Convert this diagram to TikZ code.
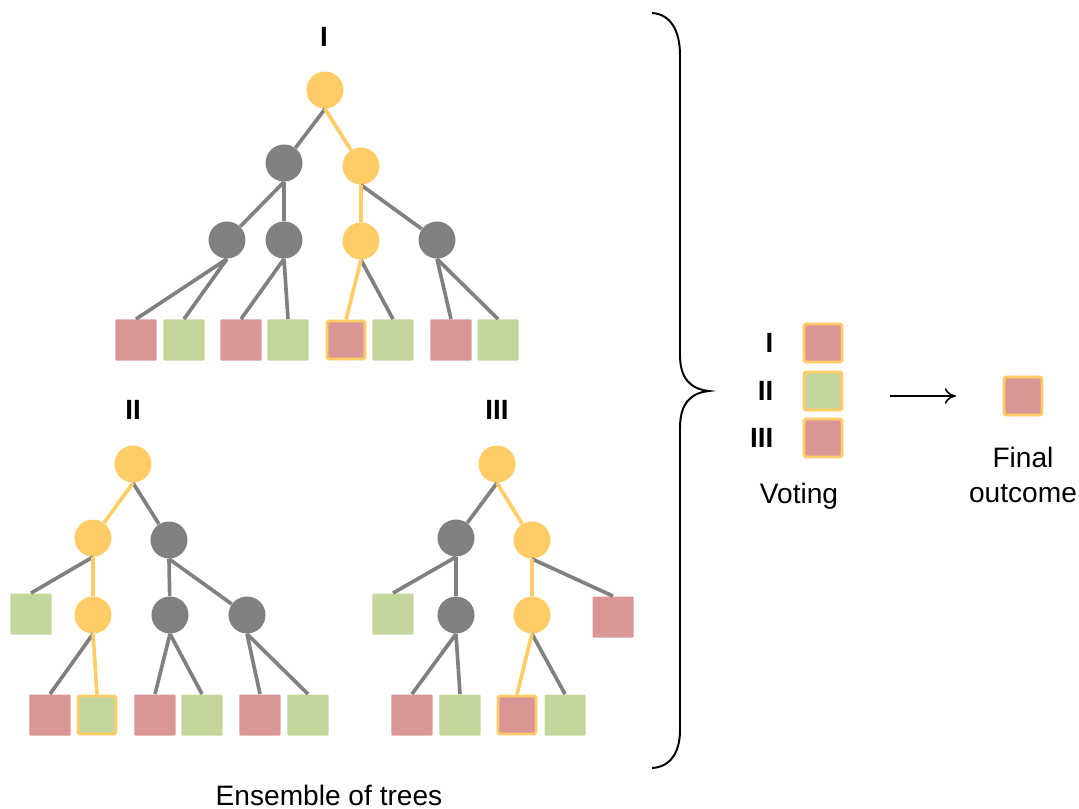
\documentclass[tikz,border=0pt]{standalone}
\usepackage{fontspec}
\setmainfont{Liberation Sans}
\usepackage{tikz}
\usetikzlibrary{arrows.meta, positioning}

\definecolor{nodeyellow}{HTML}{FFCC66}
\definecolor{nodegray}{HTML}{808080}
\definecolor{leafred}{HTML}{D99694}
\definecolor{leafgreen}{HTML}{C3D69B}

\begin{document}
\begin{tikzpicture}[x=0.025cm, y=-0.025cm, semithick,
    split/.style={circle, fill=nodegray, minimum size=0.925cm, inner sep=0pt},
    hot/.style={circle, fill=nodeyellow, minimum size=0.925cm, inner sep=0pt},
    redleaf/.style={rectangle, fill=leafred, minimum size=1.025cm, inner sep=0pt, rounded corners=0.6pt},
    greenleaf/.style={rectangle, fill=leafgreen, minimum size=1.025cm, inner sep=0pt, rounded corners=0.6pt},
    pick/.style={draw=nodeyellow, line width=2.1pt, minimum size=0.95cm, rounded corners=1.2pt},
    grayline/.style={draw=nodegray, line width=2.6pt},
    hotline/.style={draw=nodeyellow, line width=2.6pt},
    numeral/.style={font=\bfseries\fontsize{19.8}{22}\selectfont, inner sep=0pt},
    txt/.style={font=\fontsize{20}{24.8}\selectfont, align=center, inner sep=0pt}]
    \useasboundingbox (0,0) rectangle (1079,809);

    % tree I
    \node[hot]   (a1) at (325,90)  {};
    \node[split] (a2) at (284,163) {};
    \node[hot]   (a3) at (361,166) {};
    \node[split] (a4) at (227,240) {};
    \node[split] (a5) at (284,240) {};
    \node[hot]   (a6) at (361,241) {};
    \node[split] (a7) at (437,240) {};
    \node[redleaf]        (a8)  at (136,340) {};
    \node[greenleaf]      (a9)  at (184,340) {};
    \node[redleaf]        (a10) at (241,340) {};
    \node[greenleaf]      (a11) at (288,340) {};
    \node[redleaf, pick]  (a12) at (346,340) {};
    \node[greenleaf]      (a13) at (393,340) {};
    \node[redleaf]        (a14) at (451,340) {};
    \node[greenleaf]      (a15) at (498,340) {};
    \draw[grayline] (a1.south) -- (a2)
                    (a2.south) -- (a4)
                    (a2.south) -- (a5)
                    (a3.south) -- (a7)
                    (a4.south) -- (a8.north)
                    (a4.south) -- (a9.north)
                    (a5.south) -- (a10.north)
                    (a5.south) -- (a11.north)
                    (a6.south) -- (a13.north)
                    (a7.south) -- (a14.north)
                    (a7.south) -- (a15.north)
    ;
    \draw[hotline]  (a1.south) -- (a3)
                    (a3.south) -- (a6)
                    (a6.south) -- (a12.north)
    ;

    % tree II
    \node[hot]   (b1) at (133,464) {};
    \node[hot]   (b2) at (93,538)  {};
    \node[split] (b3) at (169,540) {};
    \node[greenleaf] (b4) at (31,614) {};
    \node[hot]   (b5) at (93,615)  {};
    \node[split] (b6) at (170,615) {};
    \node[split] (b7) at (247,615) {};
    \node[redleaf]          (b8)  at (50,715)  {};
    \node[greenleaf, pick]  (b9)  at (97,715)  {};
    \node[redleaf]          (b10) at (155,715) {};
    \node[greenleaf]        (b11) at (202,715) {};
    \node[redleaf]          (b12) at (260,715) {};
    \node[greenleaf]        (b13) at (308,715) {};
    \draw[grayline] (b1.south) -- (b3)
                    (b2.south) -- (b4.north)
                    (b3.south) -- (b6)
                    (b3.south) -- (b7)
                    (b5.south) -- (b8.north)
                    (b6.south) -- (b10.north)
                    (b6.south) -- (b11.north)
                    (b7.south) -- (b12.north)
                    (b7.south) -- (b13.north)
    ;
    \draw[hotline]  (b1.south) -- (b2)
                    (b2.south) -- (b5)
                    (b5.south) -- (b9.north)
    ;

    % tree III
    \node[hot]   (c1) at (497,464) {};
    \node[split] (c2) at (456,538) {};
    \node[hot]   (c3) at (532,540) {};
    \node[greenleaf] (c4) at (393,614) {};
    \node[split] (c5) at (456,615) {};
    \node[hot]   (c6) at (532,615) {};
    \node[redleaf]   (c7) at (613,617) {};
    \node[redleaf]        (c8)  at (412,715) {};
    \node[greenleaf]      (c9)  at (460,715) {};
    \node[redleaf, pick]  (c10) at (517,715) {};
    \node[greenleaf]      (c11) at (565,715) {};
    \draw[grayline] (c1.south) -- (c2)
                    (c2.south) -- (c4.north)
                    (c2.south) -- (c5)
                    (c3.south) -- (c7.north)
                    (c5.south) -- (c8.north)
                    (c5.south) -- (c9.north)
                    (c6.south) -- (c11.north)
    ;
    \draw[hotline]  (c1.south) -- (c3)
                    (c3.south) -- (c6)
                    (c6.south) -- (c10.north)
    ;

    \node[numeral] (n1) at (324,37)  {I};
    \node[numeral] (n2) at (133,410) {II};
    \node[numeral] (n3) at (497,410) {III};
    \node[txt] (ensemble) at (329,795) {Ensemble of trees};

    % brace
    \draw[line width=1.4pt] (652,13) .. controls (670,14) and (680,30) .. (680,55)
        -- (680,355) .. controls (680,378) and (690,389) .. (709,391)
        .. controls (690,393) and (680,404) .. (680,428)
        -- (680,730) .. controls (680,753) and (670,767) .. (652,768);

    % voting
    \node[redleaf, pick]   (v1) at (823,343) {};
    \node[greenleaf, pick] (v2) at (823,391) {};
    \node[redleaf, pick]   (v3) at (823,438) {};
    \node[numeral, left=0.72cm of v1] (m1) {I};
    \node[numeral, left=0.72cm of v2] (m2) {II};
    \node[numeral, left=0.72cm of v3] (m3) {III};
    \node[txt] (voting) at (799,496) {Voting};

    \node[redleaf, pick] (out) at (1023,396) {};
    \node[txt] (final) at (1023,475) {Final\\outcome};

    \coordinate (arrowstart) at (890,396);
    \coordinate (arrowend) at (956,396);
    \draw[-{To[length=8pt, width=11pt]}, line width=1.1pt] (arrowstart) -- (arrowend);
\end{tikzpicture}
\end{document}
